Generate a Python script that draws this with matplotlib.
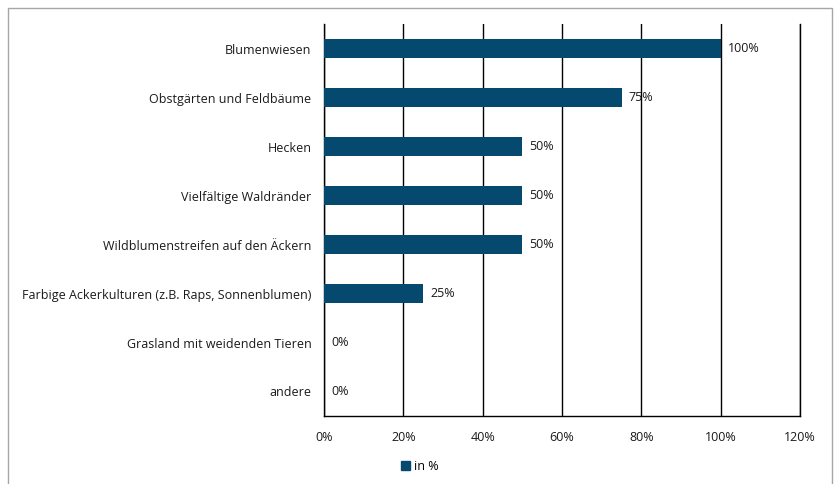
import matplotlib.pyplot as plt
from matplotlib.patches import Rectangle
import numpy as np

# Données (en %)
kategorien = ["Blumenwiesen", "Obstgärten und Feldbäume", "Hecken",
              "Vielfältige Waldränder", "Wildblumenstreifen auf den Äckern",
              "Farbige Ackerkulturen (z.B. Raps, Sonnenblumen)",
              "Grasland mit weidenden Tieren", "andere"]
werte = [100, 75, 50, 50, 50, 25, 0, 0]
x_ticks = [0, 20, 40, 60, 80, 100, 120]

plt.rcParams['font.family'] = ['Open Sans', 'DejaVu Sans']
farbe = '#06496F'
txt = '#1A1A1A'

fig = plt.figure(figsize=(8.37, 4.84), dpi=100)
W, H = 837, 484
ax = fig.add_axes([324 / W, 1 - 416 / H, (800 - 324) / W, (416 - 24) / H])

y = np.arange(len(kategorien))
ax.barh(y, werte, height=0.39, color=farbe, zorder=3)
for yi, v in zip(y, werte):
    ax.text(v + 1.8, yi, f"{v}%", va='center', ha='left', fontsize=9, color=txt, zorder=4)

ax.set_ylim(len(kategorien) - 0.5, -0.5)
ax.set_xlim(0, 120)
ax.set_yticks(y)
ax.set_yticklabels(kategorien, fontsize=9, color=txt)
ax.set_xticks(x_ticks)
ax.set_xticklabels([f"{t}%" for t in x_ticks], fontsize=9, color=txt)
ax.tick_params(axis='both', length=0)
ax.tick_params(axis='y', pad=9)
ax.tick_params(axis='x', pad=11)
ax.xaxis.grid(True, color='black', linewidth=1, zorder=0)
ax.spines['top'].set_visible(False)
for s in ['left', 'bottom', 'right']:
    ax.spines[s].set_color('black')
    ax.spines[s].set_linewidth(1)

# Legende
fig.legend([Rectangle((0, 0), 1, 1, color=farbe)], ["in %"], loc='center',
           bbox_to_anchor=(420 / W, 1 - 466 / H), frameon=False, fontsize=9,
           handlelength=0.7, handleheight=0.7, handletextpad=0.3)

# Rahmen des Diagrammbereichs
fig.patches.append(Rectangle((8 / W, -0.05), (832 - 8) / W, 1 - 8 / H + 0.05,
                             transform=fig.transFigure, fill=False,
                             edgecolor='#A6A6A6', linewidth=1))

fig.savefig("out.png", dpi=100)
